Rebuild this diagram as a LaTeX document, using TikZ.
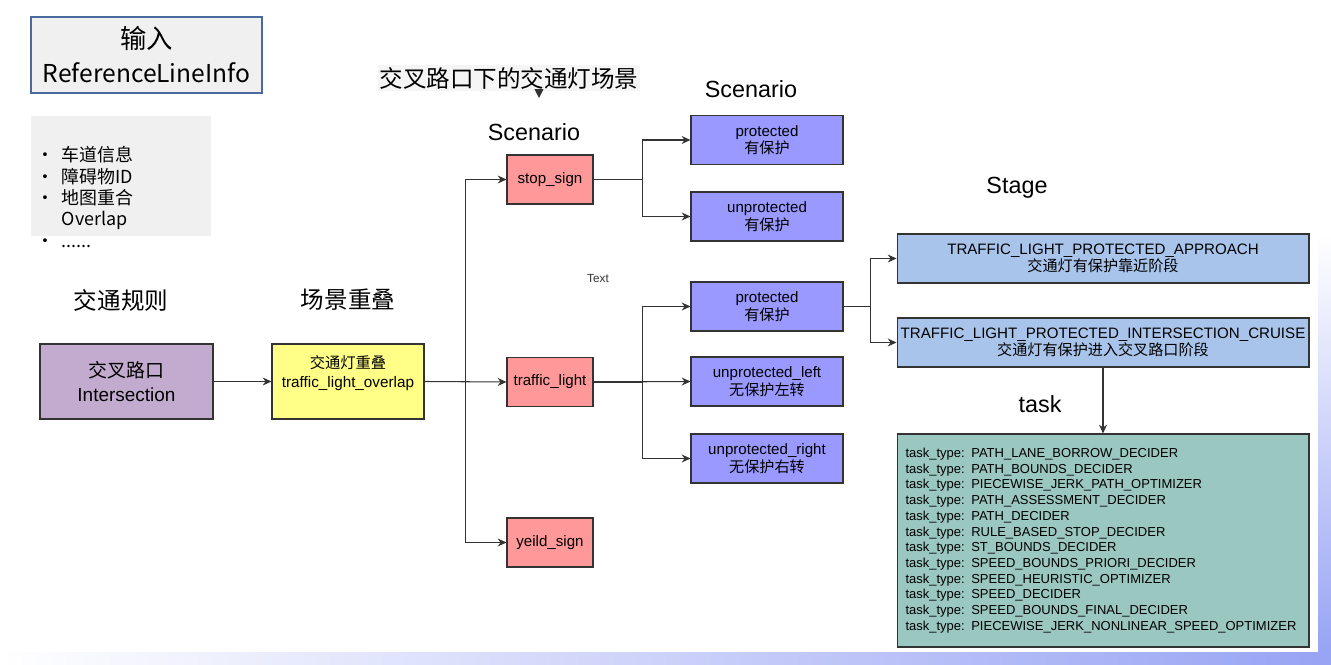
\documentclass[tikz,border=0pt]{standalone}
\usepackage{fontspec}
\setmainfont{Liberation Sans}
\newfontfamily\cjk{Noto Sans CJK SC}
\usetikzlibrary{arrows.meta, positioning}

\definecolor{panelgray}{HTML}{F0F0F0}
\definecolor{inputblue}{HTML}{4A6A9E}
\definecolor{rulepurple}{HTML}{C3ABD0}
\definecolor{overlapyellow}{HTML}{FFFF88}
\definecolor{signred}{HTML}{FF9999}
\definecolor{casepurple}{HTML}{9999FF}
\definecolor{stageblue}{HTML}{A9C4EB}
\definecolor{taskgreen}{HTML}{9AC7BF}
\definecolor{slidelav}{HTML}{98A4F4}

\begin{document}
\begin{tikzpicture}[x=0.02cm, y=-0.02cm,
    box/.style={draw=black!80, line width=0.6pt, align=center, inner sep=0pt,
        font=\fontsize{8.6}{10}\selectfont},
    sign/.style={box, fill=signred, minimum width=1.72cm, minimum height=0.98cm},
    case/.style={box, fill=casepurple, minimum width=3.04cm, minimum height=0.98cm},
    stagebox/.style={box, fill=stageblue, minimum width=8.24cm, minimum height=0.98cm},
    heading/.style={font=\fontsize{13.3}{16}\selectfont},
    cnheading/.style={font=\cjk\fontsize{13.4}{16}\selectfont},
    arr/.style={-{Stealth[length=5pt,width=4.5pt]}, line width=0.6pt, draw=black!80}]

    % Page and slide edge
    \useasboundingbox (0,0) rectangle (1331,665);
    \shade[left color=white, right color=slidelav] (0,652) rectangle (1331,665);
    \shade[top color=white, bottom color=slidelav] (1318,235) rectangle (1331,652);

    % Input
    \node[draw=inputblue, line width=0.8pt, fill=panelgray, minimum width=4.62cm,
        minimum height=1.52cm, align=center, inner sep=0pt,
        font=\cjk\fontsize{15}{19.3}\selectfont] (input) at (146.5,55)
        {输入\\{\fontsize{14}{19.3}\selectfont ReferenceLineInfo}};
    \node[fill=panelgray, minimum width=3.6cm, minimum height=2.4cm] (info) at (121,176) {};
    \node[anchor=north west, inner sep=0pt, align=left,
        font=\cjk\fontsize{10.2}{12.2}\selectfont] (infolist) at (36,146)
        {\makebox[14.5pt][l]{•}车道信息\\
         \makebox[14.5pt][l]{•}障碍物ID\\
         \makebox[14.5pt][l]{•}地图重合\\
         \hspace*{14.5pt}Overlap\\
         \makebox[14.5pt][l]{•}......};

    % Column headings
    \node[cnheading] (rulelabel) at (121,300) {交通规则};
    \node[cnheading] (overlaplabel) at (348,300) {场景重叠};
    \node[cnheading, fill=black!4, inner sep=1pt] (title) at (509,78) {交叉路口下的交通灯场景};
    \coordinate (titletip) at (539,98);
    \draw[-{Triangle[length=5pt,width=5pt]}, draw=black!80] (title.south -| titletip) -- (titletip);
    \node[heading] (scenlabel) at (534,132) {Scenario};
    \node[heading] (caselabel) at (751,89) {Scenario};
    \node[heading] (stagelabel) at (1017,188) {Stage};
    \node[heading] (tasklabel) at (1040,404) {task};
    \node[font=\fontsize{6.7}{8}\selectfont, text=black!80] (textlabel) at (598,279) {Text};

    % Rule and overlap
    \node[box, fill=rulepurple, minimum width=3.46cm, minimum height=1.5cm,
        font=\fontsize{10.8}{13.6}\selectfont] (inter) at (126.5,381.5)
        {{\cjk 交叉路口}\\Intersection};
    \node[box, fill=overlapyellow, minimum width=3.04cm, minimum height=1.5cm] (ovl) at (348,381.5) {};
    \node[align=center, inner sep=0pt, font=\fontsize{8.7}{10.8}\selectfont] (ovltext)
        at (348,373.5) {{\cjk 交通灯重叠}\\traffic\_light\_overlap};

    % Scenarios
    \node[sign] (stop) at (550,179.5) {stop\_sign};
    \node[sign] (light) at (550,382) {traffic\_light};
    \node[sign] (yield) at (550,542.5) {yeild\_sign};

    % Cases
    \node[case] (stopprot) at (767,140) {protected\\{\cjk 有保护}};
    \node[case] (stopunprot) at (767,216.5) {unprotected\\{\cjk 有保护}};
    \node[case] (lightprot) at (767,306.5) {protected\\{\cjk 有保护}};
    \node[case] (lightleft) at (767,381.5) {unprotected\_left\\{\cjk 无保护左转}};
    \node[case] (lightright) at (767,458.5) {unprotected\_right\\{\cjk 无保护右转}};

    % Stages
    \node[stagebox] (approach) at (1103,258.5)
        {TRAFFIC\_LIGHT\_PROTECTED\_APPROACH\\{\cjk 交通灯有保护靠近阶段}};
    \node[stagebox] (cruise) at (1103,342.5)
        {TRAFFIC\_LIGHT\_PROTECTED\_INTERSECTION\_CRUISE\\{\cjk 交通灯有保护进入交叉路口阶段}};

    % Tasks
    \node[box, fill=taskgreen, minimum width=8.24cm, minimum height=4.26cm, align=left,
        text width=7.9cm, font=\fontsize{7.4}{8.94}\selectfont] (task) at (1103,540.5)
        {task\_type: PATH\_LANE\_BORROW\_DECIDER\\
         task\_type: PATH\_BOUNDS\_DECIDER\\
         task\_type: PIECEWISE\_JERK\_PATH\_OPTIMIZER\\
         task\_type: PATH\_ASSESSMENT\_DECIDER\\
         task\_type: PATH\_DECIDER\\
         task\_type: RULE\_BASED\_STOP\_DECIDER\\
         task\_type: ST\_BOUNDS\_DECIDER\\
         task\_type: SPEED\_BOUNDS\_PRIORI\_DECIDER\\
         task\_type: SPEED\_HEURISTIC\_OPTIMIZER\\
         task\_type: SPEED\_DECIDER\\
         task\_type: SPEED\_BOUNDS\_FINAL\_DECIDER\\
         task\_type: PIECEWISE\_JERK\_NONLINEAR\_SPEED\_OPTIMIZER};

    % Connections
    \draw[arr] (inter) -- (ovl);
    \draw[arr] (ovl.east) -- (light.west);
    \draw[arr] (ovl.east) -- ++(41,0) |- (stop.west);
    \draw[arr] (ovl.east) -- ++(41,0) |- (yield.west);
    \draw[arr] (stop.east) -- ++(49,0) |- (stopprot.west);
    \draw[arr] (stop.east) -- ++(49,0) |- (stopunprot.west);
    \draw[arr] (light.east) -- ++(49,0) |- (lightprot.west);
    \draw[arr] (light.east) -- (lightleft.west);
    \draw[arr] (light.east) -- ++(49,0) |- (lightright.west);
    \draw[arr] (lightprot.east) -- ++(27,0) |- (approach.west);
    \draw[arr] (lightprot.east) -- ++(27,0) |- (cruise.west);
    \draw[arr] (cruise) -- (task);
\end{tikzpicture}
\end{document}
